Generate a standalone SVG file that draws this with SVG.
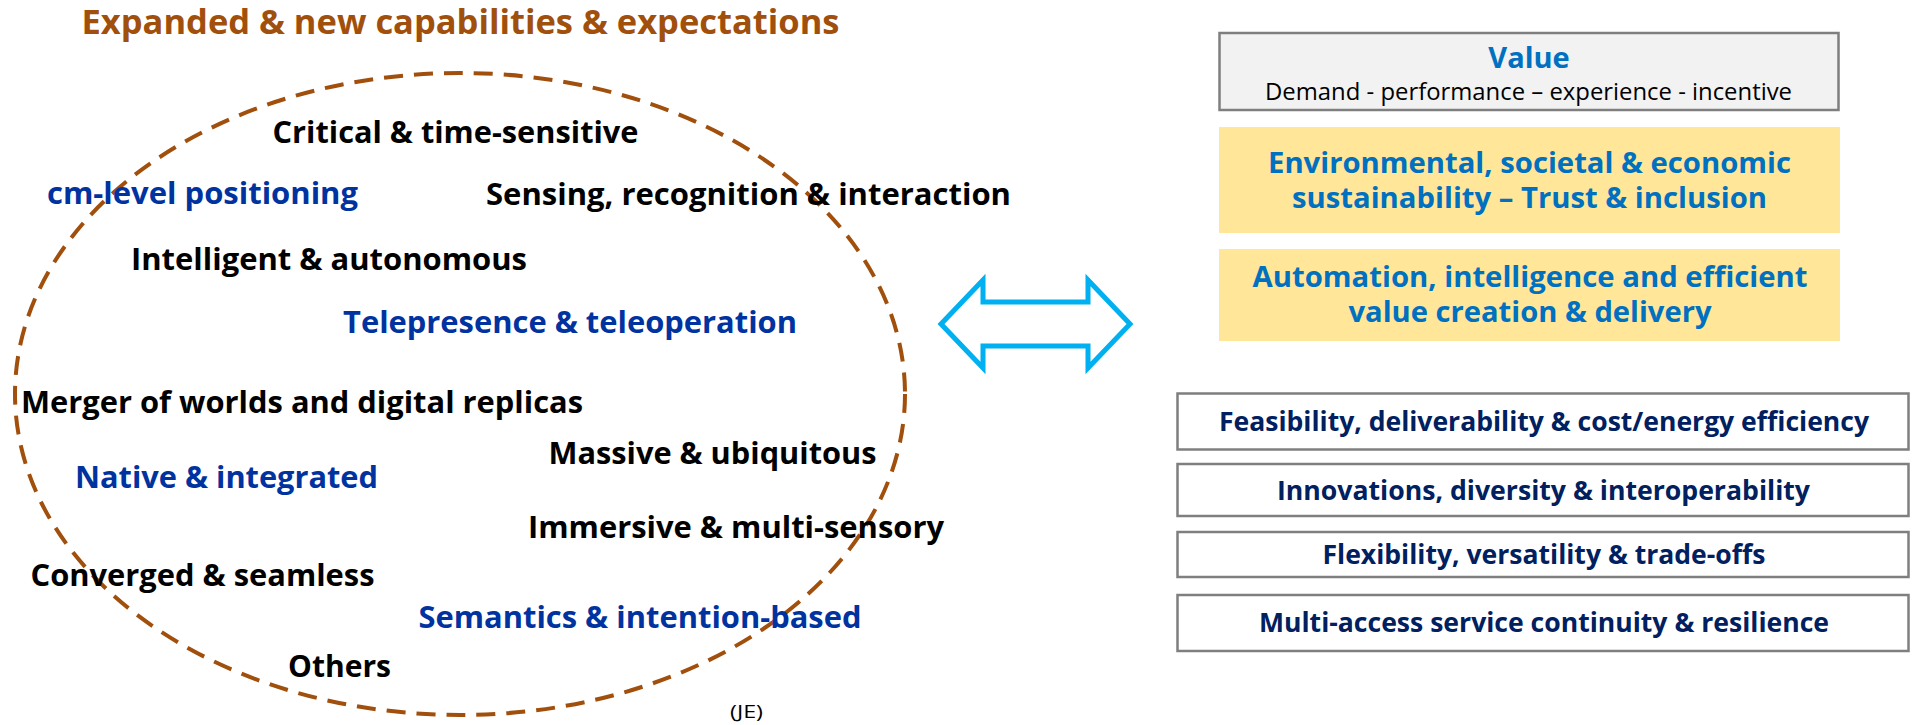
<svg xmlns="http://www.w3.org/2000/svg" width="1915" height="725" viewBox="0 0 1915 725">
<style>
text{font-family:"Open Sans","Noto Sans","Liberation Sans",sans-serif;}
.t{font-weight:700;font-size:31px;fill:#000;}
.b{font-weight:700;font-size:31px;fill:#0033A0;}
.title{font-weight:700;font-size:34px;fill:#A14F0C;}
.vb{font-weight:700;font-size:29px;fill:#0070C0;text-anchor:middle;}
.nb{font-weight:700;font-size:26px;fill:#002060;text-anchor:middle;}
.gbox{fill:#F2F2F2;stroke:#7F7F7F;stroke-width:2.5;}
.ybox{fill:#FFE699;stroke:none;}
.wbox{fill:#FFFFFF;stroke:#7F7F7F;stroke-width:2.5;}
</style>
<rect width="1915" height="725" fill="#FFFFFF"/>
<g id="title"><text class="title" x="81.5" y="34" textLength="758" lengthAdjust="spacingAndGlyphs">Expanded &amp; new capabilities &amp; expectations</text></g>
<g id="capabilities">
<ellipse cx="460" cy="394" rx="445" ry="321" fill="none" stroke="#A14F0C" stroke-width="4" stroke-dasharray="19 11"/>
</g>
<g id="n-critical"><text class="t" x="272.5" y="143" textLength="366" lengthAdjust="spacingAndGlyphs">Critical &amp; time-sensitive</text></g>
<g id="n-cm"><text class="b" x="47" y="204" textLength="311" lengthAdjust="spacingAndGlyphs">cm-level positioning</text></g>
<g id="n-sensing"><text class="t" x="486" y="205" textLength="525" lengthAdjust="spacingAndGlyphs">Sensing, recognition &amp; interaction</text></g>
<g id="n-intelligent"><text class="t" x="131" y="270" textLength="396" lengthAdjust="spacingAndGlyphs">Intelligent &amp; autonomous</text></g>
<g id="n-telepresence"><text class="b" x="343" y="333" textLength="454" lengthAdjust="spacingAndGlyphs">Telepresence &amp; teleoperation</text></g>
<g id="n-merger"><text class="t" x="21" y="413" textLength="562" lengthAdjust="spacingAndGlyphs">Merger of worlds and digital replicas</text></g>
<g id="n-massive"><text class="t" x="548.5" y="464" textLength="328" lengthAdjust="spacingAndGlyphs">Massive &amp; ubiquitous</text></g>
<g id="n-native"><text class="b" x="75" y="488" textLength="303" lengthAdjust="spacingAndGlyphs">Native &amp; integrated</text></g>
<g id="n-immersive"><text class="t" x="528" y="538" textLength="416" lengthAdjust="spacingAndGlyphs">Immersive &amp; multi-sensory</text></g>
<g id="n-converged"><text class="t" x="30.5" y="586" textLength="344" lengthAdjust="spacingAndGlyphs">Converged &amp; seamless</text></g>
<g id="n-semantics"><text class="b" x="418.5" y="628" textLength="443" lengthAdjust="spacingAndGlyphs">Semantics &amp; intention-based</text></g>
<g id="n-others"><text class="t" x="288" y="677" textLength="103" lengthAdjust="spacingAndGlyphs">Others</text></g>
<g id="credit"><text x="730" y="718" font-size="18" fill="#000" textLength="33" lengthAdjust="spacingAndGlyphs">(JE)</text></g>
<g id="connectors">
<polygon points="941,324 983,280 983,302 1088,302 1088,280 1130,324 1088,368 1088,346 983,346 983,368" fill="#FFFFFF" stroke="#00B0F0" stroke-width="5" stroke-linejoin="miter"/>
</g>
<g id="n-value">
<rect class="gbox" x="1219.5" y="33" width="619" height="77"/>
<text class="vb" x="1529" y="68" font-size="31">Value</text>
<text x="1528.5" y="100" font-size="23" fill="#000" text-anchor="middle" textLength="527" lengthAdjust="spacingAndGlyphs">Demand - performance – experience - incentive</text>
</g>
<g id="n-sustainability">
<rect class="ybox" x="1219" y="127" width="621" height="106"/>
<text class="vb"><tspan x="1529.5" y="173" textLength="523" lengthAdjust="spacingAndGlyphs">Environmental, societal &amp; economic</tspan><tspan x="1529.5" y="207.5" textLength="475" lengthAdjust="spacingAndGlyphs">sustainability – Trust &amp; inclusion</tspan></text>
</g>
<g id="n-automation">
<rect class="ybox" x="1219" y="249" width="621" height="92"/>
<text class="vb"><tspan x="1530" y="287" textLength="555" lengthAdjust="spacingAndGlyphs">Automation, intelligence and efficient</tspan><tspan x="1530" y="322" textLength="363" lengthAdjust="spacingAndGlyphs">value creation &amp; delivery</tspan></text>
</g>
<g id="n-feasibility">
<rect class="wbox" x="1177.5" y="393.5" width="731" height="56"/>
<text class="nb" x="1544" y="431" textLength="650" lengthAdjust="spacingAndGlyphs">Feasibility, deliverability &amp; cost/energy efficiency</text>
</g>
<g id="n-innovations">
<rect class="wbox" x="1177.5" y="464" width="731" height="52"/>
<text class="nb" x="1543.5" y="499.5" textLength="533" lengthAdjust="spacingAndGlyphs">Innovations, diversity &amp; interoperability</text>
</g>
<g id="n-flexibility">
<rect class="wbox" x="1177.5" y="532" width="731" height="45"/>
<text class="nb" x="1544" y="563.5" textLength="443" lengthAdjust="spacingAndGlyphs">Flexibility, versatility &amp; trade-offs</text>
</g>
<g id="n-multiaccess">
<rect class="wbox" x="1177.5" y="595" width="731" height="56"/>
<text class="nb" x="1544" y="632" textLength="570" lengthAdjust="spacingAndGlyphs">Multi-access service continuity &amp; resilience</text>
</g>
</svg>
